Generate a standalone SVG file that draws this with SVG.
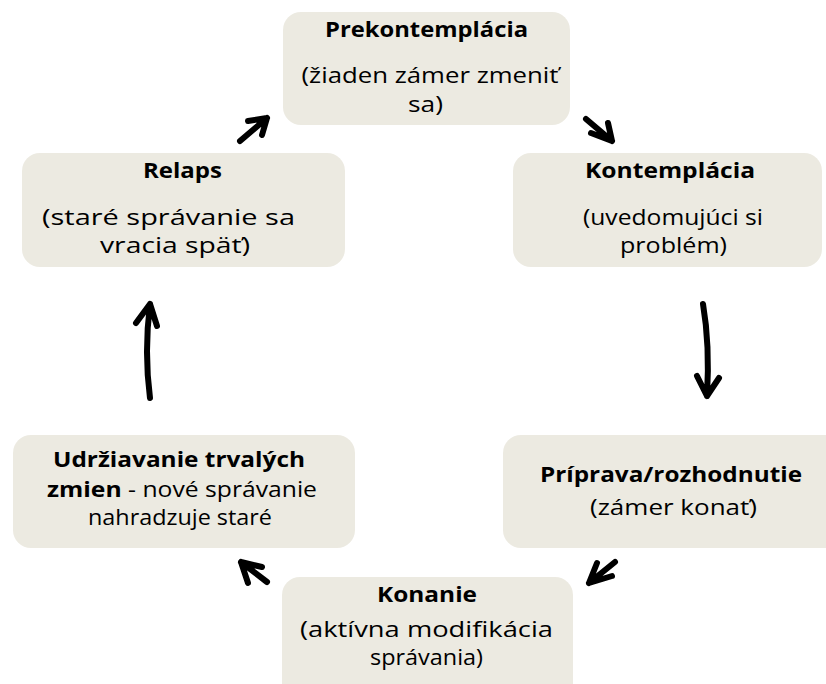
<svg xmlns="http://www.w3.org/2000/svg" width="826" height="684" viewBox="0 0 826 684">
  <style>
    .box { fill: #ECEAE1; }
    text { font-family: "Open Sans", "Liberation Sans", sans-serif; font-size: 22px; fill: #000; text-anchor: middle; }
    .t { font-weight: 700; }
    .arrow { fill: none; stroke: #000; stroke-width: 6; stroke-linecap: round; stroke-linejoin: round; }
  </style>
  <rect width="826" height="684" fill="#fff"/>

  <g id="prekontemplacia">
    <rect class="box" x="283" y="12" width="287" height="113" rx="18"/>
    <text class="t" x="426.5" y="37" textLength="203" lengthAdjust="spacingAndGlyphs">Prekontemplácia</text>
    <text x="430" y="83" textLength="257" lengthAdjust="spacingAndGlyphs">(žiaden zámer zmeniť</text>
    <text x="425.5" y="112" textLength="35" lengthAdjust="spacingAndGlyphs">sa)</text>
  </g>

  <g id="kontemplacia">
    <rect class="box" x="513" y="153" width="309" height="114" rx="18"/>
    <text class="t" x="670" y="178" textLength="170" lengthAdjust="spacingAndGlyphs">Kontemplácia</text>
    <text x="673" y="225" textLength="180" lengthAdjust="spacingAndGlyphs">(uvedomujúci si</text>
    <text x="673.5" y="253" textLength="107" lengthAdjust="spacingAndGlyphs">problém)</text>
  </g>

  <g id="priprava">
    <rect class="box" x="503" y="435" width="345" height="113" rx="18"/>
    <text class="t" x="671" y="482" textLength="262" lengthAdjust="spacingAndGlyphs">Príprava/rozhodnutie</text>
    <text x="673.5" y="515" textLength="167" lengthAdjust="spacingAndGlyphs">(zámer konať)</text>
  </g>

  <g id="konanie">
    <rect class="box" x="282" y="577" width="291" height="130" rx="18"/>
    <text class="t" x="427" y="602" textLength="100" lengthAdjust="spacingAndGlyphs">Konanie</text>
    <text x="426.5" y="637" textLength="253" lengthAdjust="spacingAndGlyphs">(aktívna modifikácia</text>
    <text x="426.5" y="665" textLength="113" lengthAdjust="spacingAndGlyphs">správania)</text>
  </g>

  <g id="udrziavanie">
    <rect class="box" x="13" y="435" width="342" height="113" rx="18"/>
    <text class="t" x="179" y="467" textLength="252" lengthAdjust="spacingAndGlyphs">Udržiavanie trvalých</text>
    <text x="182" y="497" textLength="270" lengthAdjust="spacingAndGlyphs"><tspan class="t">zmien</tspan> - nové správanie</text>
    <text x="180" y="525" textLength="184" lengthAdjust="spacingAndGlyphs">nahradzuje staré</text>
  </g>

  <g id="relaps">
    <rect class="box" x="22" y="153" width="323" height="114" rx="18"/>
    <text class="t" x="182.5" y="178" textLength="79" lengthAdjust="spacingAndGlyphs">Relaps</text>
    <text x="168.5" y="225" textLength="253" lengthAdjust="spacingAndGlyphs">(staré správanie sa</text>
    <text x="175" y="253" textLength="150" lengthAdjust="spacingAndGlyphs">vracia späť)</text>
  </g>

  <g id="connectors">
    <!-- Relaps -> Prekontemplácia -->
    <path class="arrow" d="M240 141 L267 118 M248 121 L267 118 L262 135"/>
    <!-- Prekontemplácia -> Kontemplácia -->
    <path class="arrow" d="M586 119 L612 141 M591 133 L612 141 L608 123"/>
    <!-- Kontemplácia -> Príprava -->
    <path class="arrow" d="M703 304 Q710 345 707 396 M697 376 L707 396 L719 378"/>
    <!-- Príprava -> Konanie -->
    <path class="arrow" d="M615 562 L589 583 M597 563 L589 583 L612 576"/>
    <!-- Konanie -> Udržiavanie -->
    <path class="arrow" d="M267 582 L241 562 M248 583 L241 562 L262 567"/>
    <!-- Udržiavanie -> Relaps -->
    <path class="arrow" d="M150 398 Q144 352 150 304 M136 323 L150 304 L157 326"/>
  </g>
</svg>
